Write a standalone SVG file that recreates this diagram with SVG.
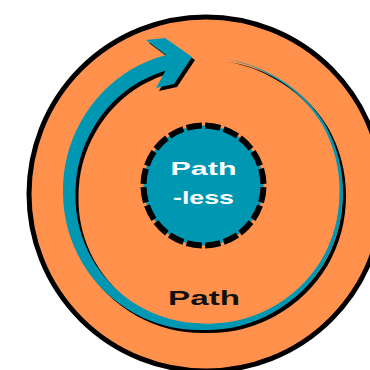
<svg xmlns="http://www.w3.org/2000/svg" xmlns:xlink="http://www.w3.org/1999/xlink" width="370" height="370" viewBox="0 0 370 370">
  <style>
    .ring { fill: #FF914D; stroke: #000; stroke-width: 5; }
    .core { fill: #0097B2; stroke: #000; stroke-width: 6; stroke-dasharray: 8.2 1.8; stroke-dashoffset: -0.9; }
    .lbl { font-family: "Liberation Sans", Arial, sans-serif; font-weight: bold; text-anchor: middle; }
    .white { fill: #fff; }
    .dark { fill: #111; }
  </style>
  <defs>
    <path id="arrowShape" d="M224.3,58.7 A136,136 0 0 1 271.5,74.4 A138,138 0 0 1 324.2,123 A140,140 0 0 1 343,193 A140,140 0 0 1 324.2,263 A139,139 0 0 1 272.25,312.9 A138,138 0 0 1 203,330 A138,138 0 0 1 133.75,312.9 A139,139 0 0 1 82.2,262.75 A140,140 0 0 1 63,193 A141,141 0 0 1 80.5,122.25 A142,142 0 0 1 131.5,69.2 A143,143 0 0 1 166,54.9 L146,40 L165,38 L192,57 L174,84 L156,88 L165.6,70.6 A128,128 0 0 0 139,82.1 A128,128 0 0 0 92.6,129.25 A127.5,127.5 0 0 0 75.5,193 A128,128 0 0 0 91.3,257.5 A129,129 0 0 0 138,305.6 A130,130 0 0 0 203,323.5 A132,132 0 0 0 269.75,308.6 A135,135 0 0 0 320.8,261 A136,136 0 0 0 339.5,193 A137,137 0 0 0 322.1,124.25 A136,136 0 0 0 270.9,75.4 A136,136 0 0 0 224.3,58.7 Z"/>
  </defs>
  <g id="path-ring">
    <circle class="ring" cx="206" cy="194" r="177"/>
    <text class="lbl dark" x="204" y="305" font-size="19.5" textLength="72" lengthAdjust="spacingAndGlyphs">Path</text>
  </g>
  <g id="connectors">
    <use xlink:href="#arrowShape" href="#arrowShape" fill="#000" transform="translate(3,3)"/>
    <use xlink:href="#arrowShape" href="#arrowShape" fill="#0097B2"/>
  </g>
  <g id="pathless">
    <circle class="core" cx="203.5" cy="185.5" r="60" pathLength="200"/>
    <text class="lbl white" x="203.5" y="175" font-size="18.6" textLength="66" lengthAdjust="spacingAndGlyphs">Path</text>
    <text class="lbl white" x="203.5" y="203.5" font-size="18.6" textLength="61" lengthAdjust="spacingAndGlyphs">-less</text>
  </g>
</svg>
